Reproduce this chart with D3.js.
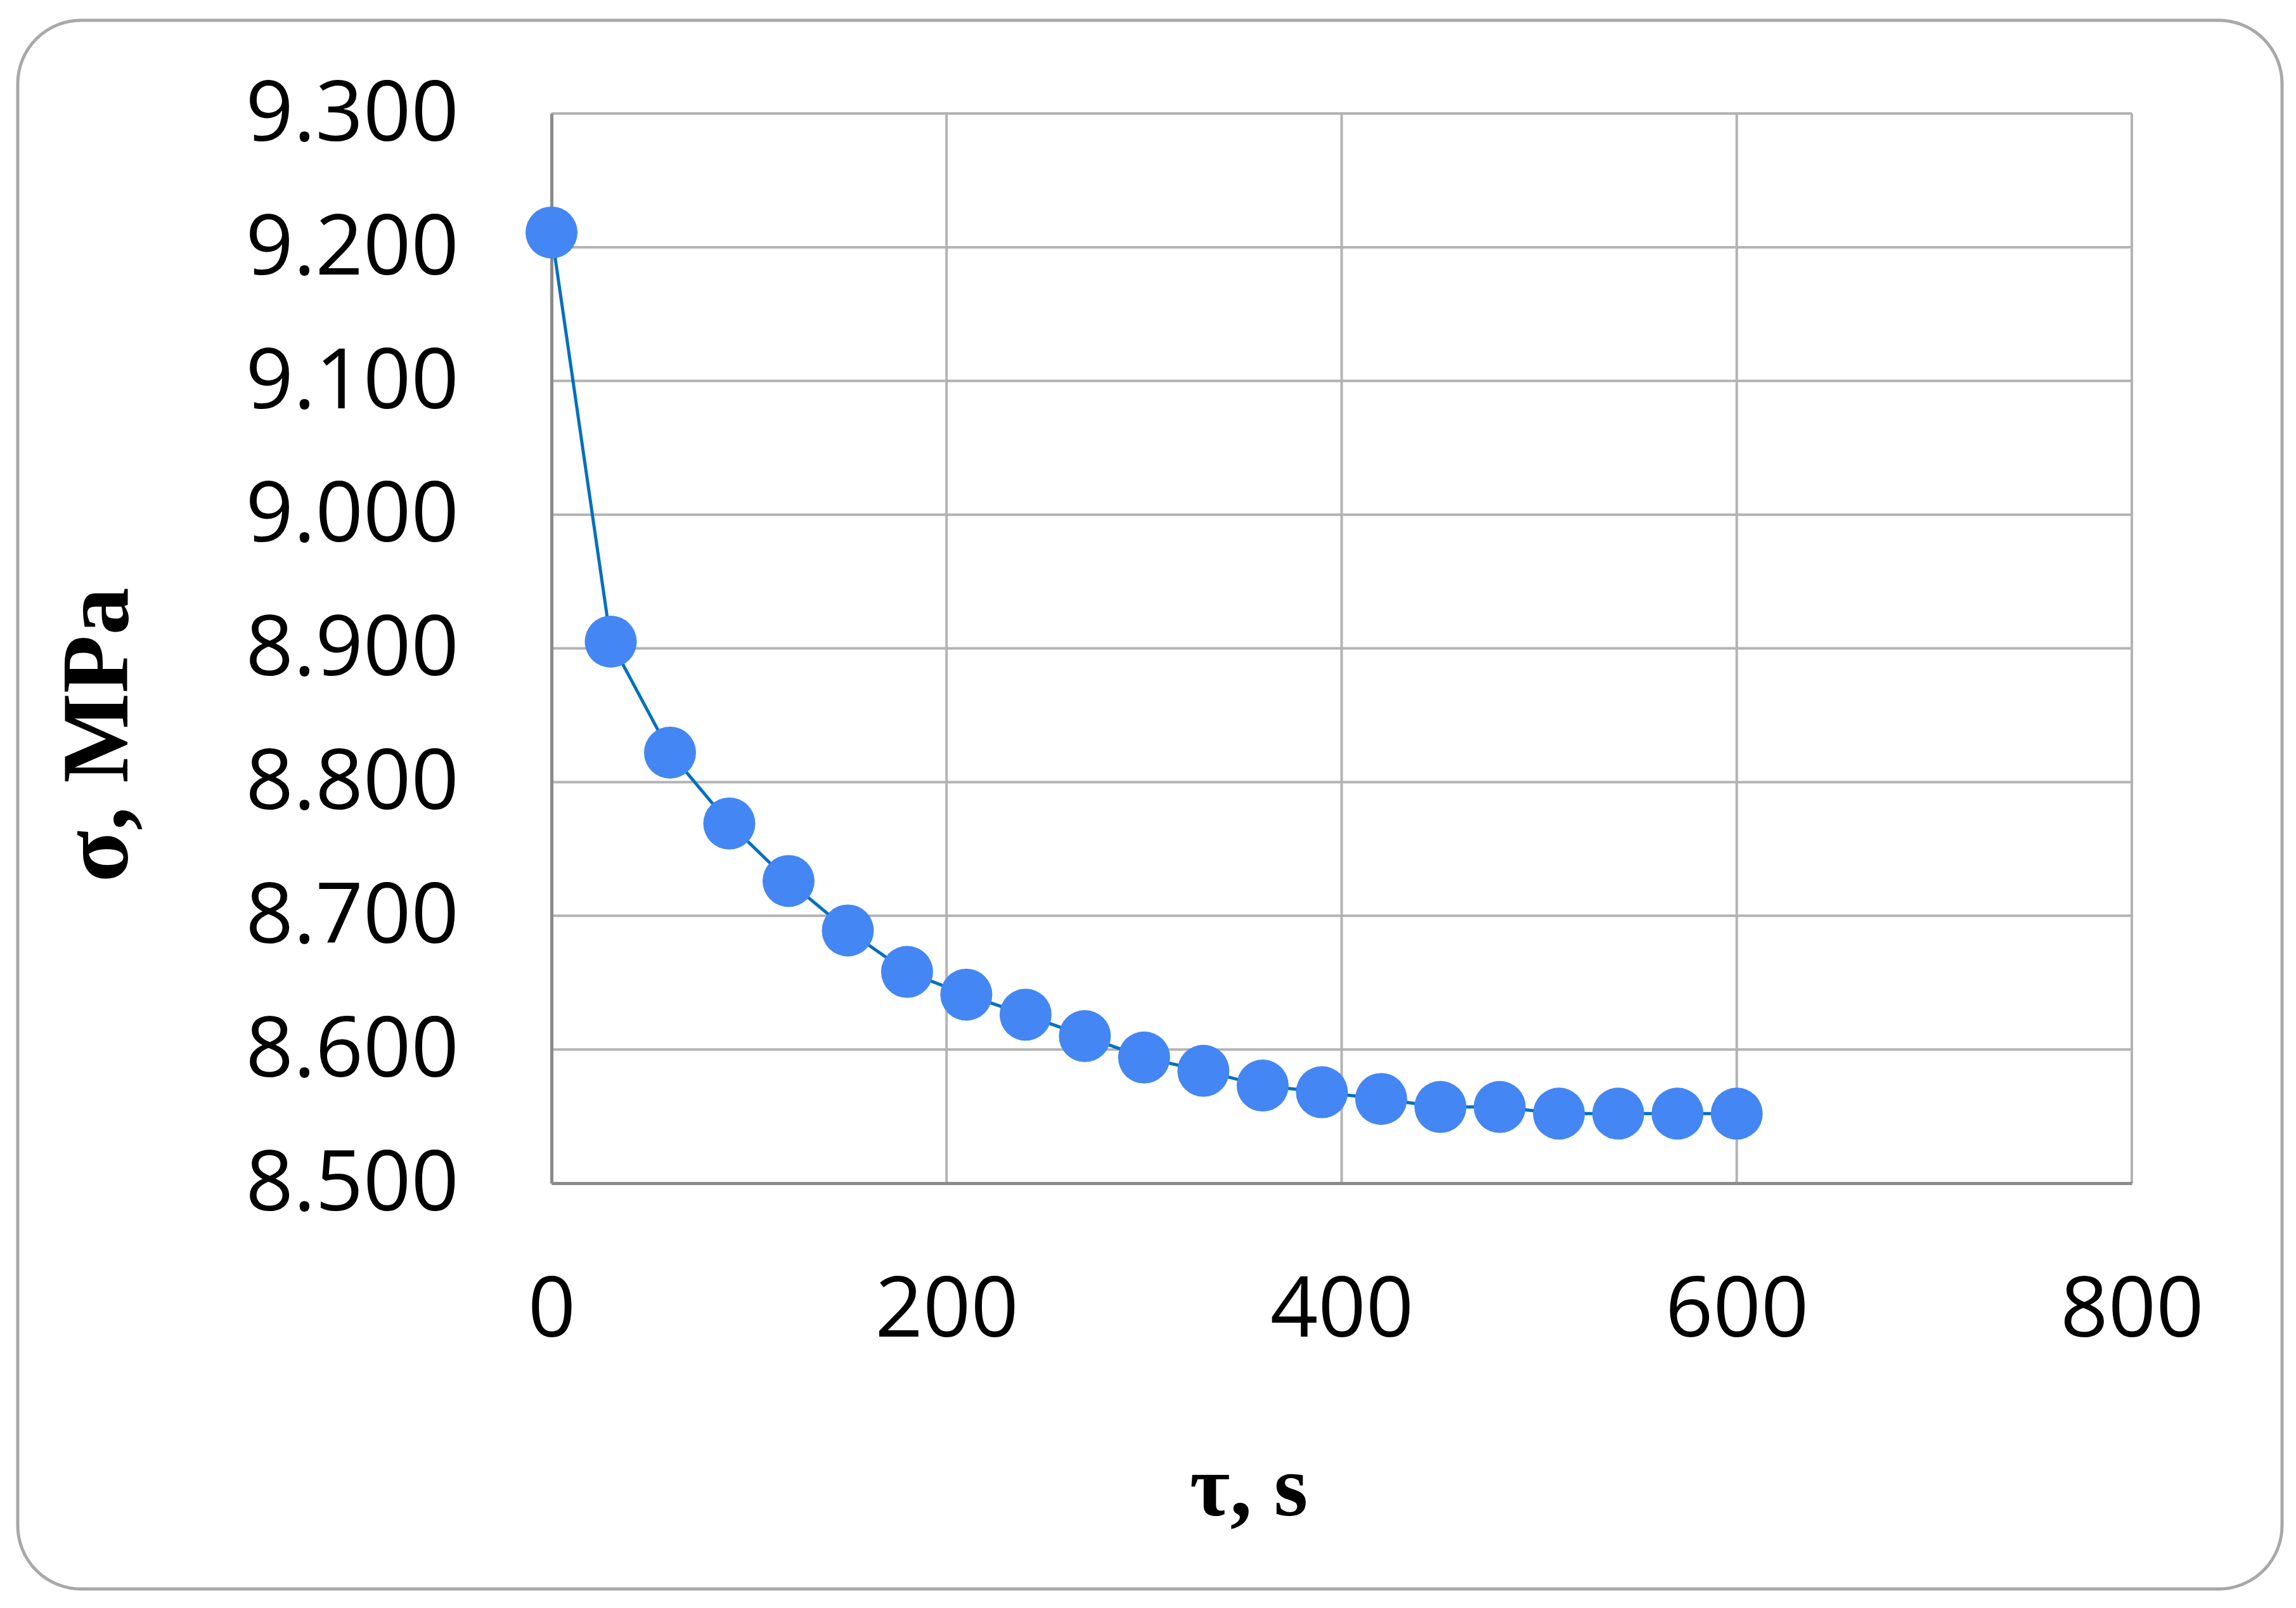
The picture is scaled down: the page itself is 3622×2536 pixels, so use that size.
<!DOCTYPE html>
<html>
<head>
<meta charset="utf-8">
<script src="https://cdn.jsdelivr.net/npm/d3@7"></script>
<style>
  html, body { margin: 0; padding: 0; background: #ffffff; }
  svg { display: block; }
</style>
</head>
<body>
<script>
// ---- data ----
const times = [0, 30, 60, 90, 120, 150, 180, 210, 240, 270, 300, 330, 360, 390, 420, 450, 480, 510, 540, 570, 600];
const stress = [9.211, 8.905, 8.822, 8.769, 8.726, 8.689, 8.658, 8.641, 8.626, 8.610, 8.594, 8.584, 8.573, 8.568, 8.563, 8.557, 8.557, 8.552, 8.552, 8.552, 8.552];
const xTicks = [0, 200, 400, 600, 800];
const yTicks = [8.5, 8.6, 8.7, 8.8, 8.9, 9.0, 9.1, 9.2, 9.3];
const xTitle = "τ, s";
const yTitle = "σ, MPa";

// ---- layout ----
const W = 3622, H = 2536;
const plot = { left: 870, right: 3363, top: 179, bottom: 1866 };

const svg = d3.select("body").append("svg")
  .attr("width", W).attr("height", H);

// chart border
svg.append("rect")
  .attr("x", 28).attr("y", 32)
  .attr("width", 3600 - 28).attr("height", 2506 - 32)
  .attr("rx", 100).attr("ry", 100)
  .attr("fill", "#ffffff")
  .attr("stroke", "#a8a8a8")
  .attr("stroke-width", 5);

const x = d3.scaleLinear().domain([0, 800]).range([plot.left, plot.right]);
const y = d3.scaleLinear().domain([8.5, 9.3]).range([plot.bottom, plot.top]);

// gridlines
const gridColor = "#b3b3b3";
svg.append("g")
  .selectAll("line.hg")
  .data(yTicks)
  .join("line")
  .attr("x1", plot.left).attr("x2", plot.right)
  .attr("y1", d => y(d)).attr("y2", d => y(d))
  .attr("stroke", gridColor).attr("stroke-width", 4);

svg.append("g")
  .selectAll("line.vg")
  .data(xTicks)
  .join("line")
  .attr("x1", d => x(d)).attr("x2", d => x(d))
  .attr("y1", plot.top).attr("y2", plot.bottom)
  .attr("stroke", gridColor).attr("stroke-width", 4);

// axes
const tickFont = "'Open Sans', 'Segoe UI', sans-serif";
const xAxis = svg.append("g")
  .attr("transform", `translate(0,${plot.bottom})`)
  .call(d3.axisBottom(x).tickValues(xTicks).tickSize(0).tickPadding(148).tickFormat(d3.format("d")));
const yAxis = svg.append("g")
  .attr("transform", `translate(${plot.left},0)`)
  .call(d3.axisLeft(y).tickValues(yTicks).tickSize(0).tickPadding(146).tickFormat(d3.format(".3f")));

[xAxis, yAxis].forEach(g => {
  g.select(".domain").attr("stroke", "#8a8a8a").attr("stroke-width", 5);
  g.selectAll("text")
    .attr("font-family", tickFont)
    .attr("font-size", 132)
    .attr("fill", "#000000");
});
yAxis.selectAll("text").attr("dy", "0.32em");

// line
const line = d3.line()
  .x((d, i) => x(times[i]))
  .y(d => y(d));
svg.append("path")
  .datum(stress)
  .attr("d", line)
  .attr("fill", "none")
  .attr("stroke", "#0070c0")
  .attr("stroke-width", 5);

// markers
svg.append("g")
  .selectAll("circle")
  .data(stress)
  .join("circle")
  .attr("cx", (d, i) => x(times[i]))
  .attr("cy", d => y(d))
  .attr("r", 41)
  .attr("fill", "#4486f4");

// axis titles
svg.append("text")
  .attr("x", 1970).attr("y", 2390)
  .attr("text-anchor", "middle")
  .attr("font-family", "'Liberation Serif', 'Times New Roman', serif")
  .attr("font-weight", "bold")
  .attr("font-size", 138)
  .attr("fill", "#000")
  .text(xTitle);

svg.append("text")
  .attr("transform", "translate(201,1159) rotate(-90)")
  .attr("text-anchor", "middle")
  .attr("font-family", "'Liberation Serif', 'Times New Roman', serif")
  .attr("font-weight", "bold")
  .attr("font-size", 150)
  .attr("fill", "#000")
  .text(yTitle);
</script>
</body>
</html>
